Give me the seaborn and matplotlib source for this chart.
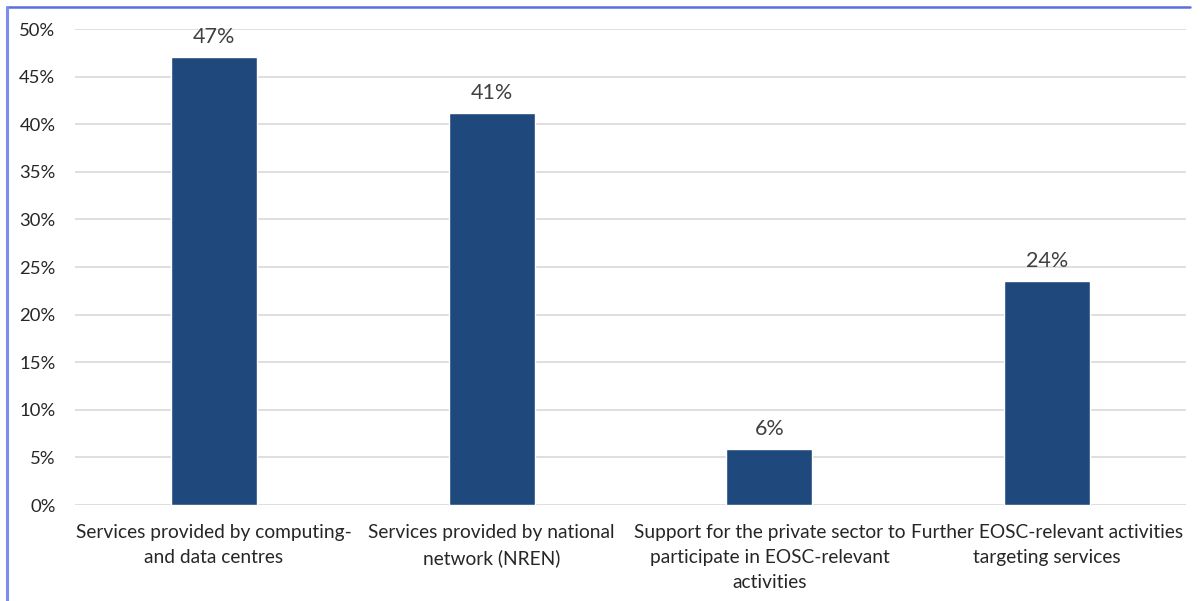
import matplotlib
matplotlib.use("Agg")
import matplotlib.pyplot as plt
from matplotlib.lines import Line2D
from matplotlib.ticker import PercentFormatter
import seaborn as sns
import pandas as pd

categories = [
    "Services provided by computing-\nand data centres",
    "Services provided by national\nnetwork (NREN)",
    "Support for the private sector to\nparticipate in EOSC-relevant\nactivities",
    "Further EOSC-relevant activities\ntargeting services",
]
shares = [47.06, 41.18, 5.88, 23.53]
y_ticks = [0, 5, 10, 15, 20, 25, 30, 35, 40, 45, 50]

sns.set_theme(style="white")
plt.rcParams["font.family"] = ["Lato", "DejaVu Sans"]

df = pd.DataFrame({"category": categories, "share": shares})

fig = plt.figure(figsize=(12, 6.01), dpi=100)
ax = fig.add_axes([75 / 1200, 1 - 505 / 601, 1111 / 1200, 476 / 601])

sns.barplot(data=df, x="category", y="share", color="#1f497d",
            width=0.31, saturation=1, ax=ax, zorder=3)

ax.set_ylim(0, 50)
ax.set_yticks(y_ticks)
ax.yaxis.set_major_formatter(PercentFormatter(decimals=0))
ax.set_xlim(-0.5, len(categories) - 0.5)
ax.grid(axis="y", color="#dcdcdc", linewidth=1.3, zorder=0)
for s in ax.spines.values():
    s.set_visible(False)
ax.set_xlabel("")
ax.set_ylabel("")
ax.tick_params(axis="y", labelsize=13.3, labelcolor="#262626", length=0, pad=14)
ax.tick_params(axis="x", labelsize=13.8, labelcolor="#262626", length=0, pad=14)
for lbl in ax.get_xticklabels():
    lbl.set_linespacing(1.55)

for container in ax.containers:
    ax.bar_label(container, labels=[f"{v:.0f}%" for v in shares],
                 padding=7, fontsize=15.5, color="#404040")

# Frame lines along the top and left edges
fig.add_artist(Line2D([7 / 1200, 1190 / 1200], [1 - 7 / 601, 1 - 7 / 601],
                      transform=fig.transFigure, color="#5b6ee0", linewidth=1.8))
fig.add_artist(Line2D([7 / 1200, 7 / 1200], [0, 1 - 7 / 601],
                      transform=fig.transFigure, color="#7b8ef0", linewidth=2.2))

fig.savefig("out.png", dpi=100, facecolor="white")
